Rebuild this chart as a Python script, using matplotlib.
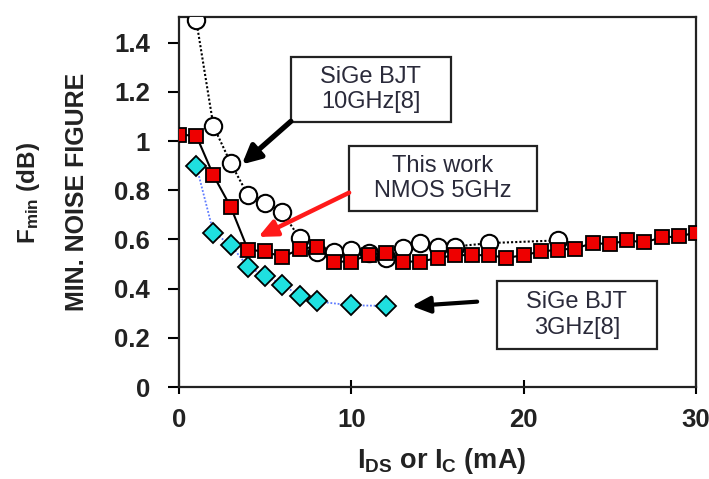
import matplotlib
matplotlib.use("Agg")
import matplotlib.pyplot as plt
from matplotlib.patches import Rectangle

plt.rcParams['font.family'] = ['Liberation Sans', 'DejaVu Sans']
plt.rcParams['mathtext.fontset'] = 'custom'
plt.rcParams['mathtext.rm'] = 'Liberation Sans'
plt.rcParams['mathtext.bf'] = 'Liberation Sans:bold'
plt.rcParams['mathtext.it'] = 'Liberation Sans:italic'

# SiGe BJT 10 GHz [8] (open circles)
bjt10_x = [1, 2, 3, 4, 5, 6, 7, 8, 9, 10, 11, 12, 13, 14, 15, 16, 18, 22]
bjt10_y = [1.49, 1.06, 0.91, 0.78, 0.75, 0.71, 0.605, 0.55, 0.548, 0.556, 0.545,
           0.524, 0.565, 0.585, 0.571, 0.571, 0.585, 0.596]

# This work NMOS 5 GHz (red squares)
nmos_x = list(range(0, 31))
nmos_y = [1.025, 1.022, 0.86, 0.732, 0.558, 0.551, 0.528, 0.561, 0.571, 0.510,
          0.510, 0.538, 0.545, 0.510, 0.510, 0.524, 0.536, 0.536, 0.536, 0.525,
          0.536, 0.551, 0.558, 0.563, 0.585, 0.581, 0.596, 0.588, 0.608, 0.612,
          0.628]

# SiGe BJT 3 GHz [8] (cyan diamonds)
bjt3_x = [1, 2, 3, 4, 5, 6, 7, 8, 10, 12]
bjt3_y = [0.90, 0.627, 0.578, 0.488, 0.452, 0.416, 0.371, 0.348, 0.332, 0.330]

x_ticks = [0, 10, 20, 30]
y_ticks = [0, 0.2, 0.4, 0.6, 0.8, 1, 1.2, 1.4]
y_tick_labels = ['0', '0.2', '0.4', '0.6', '0.8', '1', '1.2', '1.4']

fig = plt.figure(figsize=(7.09, 4.79), dpi=100)
ax = fig.add_axes([0.2525, 0.192, 0.7292, 0.773])

ax.plot(bjt10_x, bjt10_y, linestyle=(0, (1, 1)), color='black', lw=1.5,
        marker='o', ms=12.5, mfc='white', mec='black', mew=1.5, zorder=3)
ax.plot(bjt3_x, bjt3_y, linestyle=(0, (1, 1)), color='#5f7cff', lw=1.3,
        marker='D', ms=10, mfc='#1fe0e0', mec='black', mew=1.3, zorder=4)
ax.plot(nmos_x, nmos_y, linestyle='-', color='black', lw=1.5,
        marker='s', ms=9.5, mfc='#ee0000', mec='black', mew=1.3, zorder=5)

ax.set_xlim(0, 30)
ax.set_ylim(0, 1.505)
ax.set_xticks(x_ticks)
ax.set_xticklabels([str(v) for v in x_ticks])
ax.set_yticks(y_ticks)
ax.set_yticklabels(y_tick_labels)
for sp in ax.spines.values():
    sp.set_linewidth(1.6)
    sp.set_color('#222222')
ax.tick_params(axis='y', direction='out', length=8, width=1.5, pad=13,
               labelsize=18.5)
ax.tick_params(axis='x', direction='inout', length=10, width=1.5, pad=10,
               labelsize=18.5)
for lab in ax.get_xticklabels() + ax.get_yticklabels():
    lab.set_fontweight('bold')
    lab.set_color('#222222')

# annotation boxes (data coordinates)
boxes = [
    (6.49, 1.078, 15.77, 1.342, 'SiGe BJT\n10GHz[8]'),
    (9.87, 0.715, 20.76, 0.980, 'This work\nNMOS 5GHz'),
    (18.44, 0.154, 27.73, 0.431, 'SiGe BJT\n3GHz[8]'),
]
for x0, y0, x1, y1, txt in boxes:
    ax.add_patch(Rectangle((x0, y0), x1 - x0, y1 - y0, fill=True, fc='white',
                           ec='#222222', lw=1.6, zorder=6))
    ax.text((x0 + x1) / 2, (y0 + y1) / 2, txt, ha='center', va='center',
            fontsize=17, color='#2a2a3a', linespacing=1.2, zorder=7)

ax.annotate('', xy=(3.65, 0.905), xytext=(6.49, 1.08),
            arrowprops=dict(arrowstyle='-|>,head_length=1.1,head_width=0.55',
                            lw=3.8, color='black', shrinkA=0, shrinkB=0),
            zorder=8)
ax.annotate('', xy=(4.6, 0.61), xytext=(9.87, 0.79),
            arrowprops=dict(arrowstyle='-|>,head_length=1.1,head_width=0.5',
                            lw=3.2, color='#ff1a1a', shrinkA=0, shrinkB=0),
            zorder=8)
ax.annotate('', xy=(13.5, 0.329), xytext=(17.3, 0.347),
            arrowprops=dict(arrowstyle='-|>,head_length=1.1,head_width=0.5',
                            lw=3, color='black', shrinkA=0, shrinkB=0),
            zorder=8)

fig.text(0.108, 0.600, 'MIN. NOISE FIGURE', rotation=90, ha='center',
         va='center', fontsize=18, fontweight='bold', color='#222222')
fig.text(0.040, 0.596, r'$\mathbf{F_{min}\ (dB)}$', rotation=90, ha='center',
         va='center', fontsize=17.5, color='#222222')
fig.text(0.623, 0.022, r'$\mathbf{I_{DS}\ or\ I_{C}\ (mA)}$', ha='center',
         va='baseline', fontsize=19.5, color='#222222')

fig.savefig('out.png', dpi=100)
